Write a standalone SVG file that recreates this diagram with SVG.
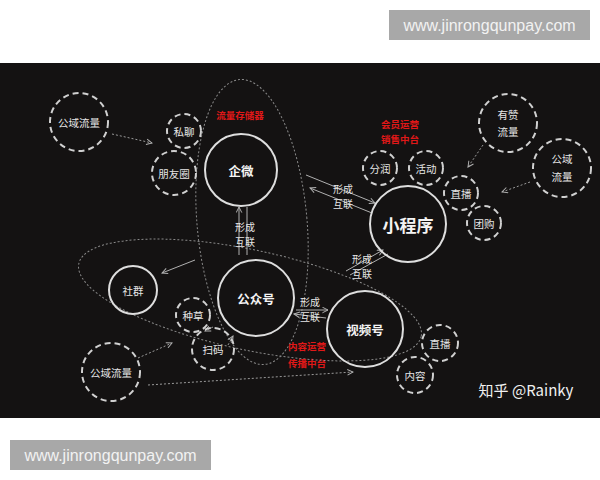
<svg xmlns="http://www.w3.org/2000/svg" width="600" height="480" viewBox="0 0 600 480">
<style>
.cn{font-family:"Noto Sans CJK SC","Noto Sans",sans-serif;text-anchor:middle;dominant-baseline:central}
.lbl{fill:#e6e6e6;font-size:10.5px}
.sm{fill:#e6e6e6;font-size:10px}
.big{fill:#f4f4f4;font-size:12.5px;font-weight:bold}
.red{fill:#e01818;font-size:9.5px;font-weight:bold}
.dash{fill:none;stroke:#d0d0d0;stroke-width:2;stroke-dasharray:6 4}
.solid{fill:none;stroke:#dedede;stroke-width:2}
.ell{fill:none;stroke:#8a8a8a;stroke-width:1;stroke-dasharray:2 2}
.dot{fill:none;stroke:#9a9a9a;stroke-width:1;stroke-dasharray:2 2}
.thin{fill:none;stroke:#b0b0b0;stroke-width:1}
.wm{font-family:"Liberation Sans",Arial,sans-serif;font-size:16px;fill:#f2f2f2;text-anchor:middle}
</style>
<defs>
<marker id="ah" viewBox="0 0 10 10" refX="9" refY="5" markerWidth="7" markerHeight="7" orient="auto-start-reverse">
<path d="M1,1 L9,5 L1,9" fill="none" stroke="#b0b0b0" stroke-width="1.4"/>
</marker>
</defs>
<rect x="0" y="0" width="600" height="480" fill="#ffffff"/>
<rect x="389" y="10" width="201" height="30" fill="#a8a8a8"/>
<text class="wm" x="489.5" y="31">www.jinrongqunpay.com</text>
<rect x="0" y="63" width="600" height="355" fill="#141212"/>
<rect x="10" y="440" width="201" height="30" fill="#a8a8a8"/>
<text class="wm" x="110.5" y="461">www.jinrongqunpay.com</text>

<g id="regions">
<ellipse class="ell" cx="252" cy="222" rx="55" ry="143" transform="rotate(-5 252 222)"/>
<ellipse class="ell" cx="250" cy="300" rx="175" ry="50" transform="rotate(12 250 300)"/>
</g>

<g id="connectors">
<line class="dot" x1="112" y1="134" x2="152" y2="143" marker-end="url(#ah)"/>
<line class="dot" x1="483" y1="145" x2="468" y2="167" marker-end="url(#ah)"/>
<line class="dot" x1="530" y1="182" x2="502" y2="192" marker-end="url(#ah)"/>
<line class="thin" x1="306" y1="175" x2="375" y2="203" marker-end="url(#ah)"/>
<line class="thin" x1="372" y1="213" x2="310" y2="188" marker-end="url(#ah)"/>
<line class="thin" x1="239" y1="255" x2="239" y2="207" marker-end="url(#ah)"/>
<line class="thin" x1="247" y1="207" x2="247" y2="255"/>
<line class="thin" x1="195" y1="260" x2="162" y2="273" marker-end="url(#ah)"/>
<line class="thin" x1="296" y1="310" x2="328" y2="310" marker-end="url(#ah)"/>
<line class="thin" x1="326" y1="318" x2="294" y2="314" marker-end="url(#ah)"/>
<line class="thin" x1="346" y1="271" x2="383" y2="250" marker-end="url(#ah)"/>
<line class="thin" x1="388" y1="254" x2="350" y2="275"/>
<line class="dot" x1="138" y1="358" x2="172" y2="343" marker-end="url(#ah)"/>
<line class="dot" x1="213" y1="327" x2="205" y2="331" marker-end="url(#ah)"/>
<line class="dot" x1="228" y1="345" x2="233" y2="336" marker-end="url(#ah)"/>
<line class="dot" x1="148" y1="385" x2="353" y2="372" marker-end="url(#ah)"/>
</g>

<g id="n-gongyu1"><circle class="dash" cx="79" cy="122" r="29"/><text class="cn lbl" x="79" y="122">公域流量</text></g>
<g id="n-siliao"><circle class="dash" cx="184" cy="131" r="17"/><text class="cn lbl" x="184" y="131">私聊</text></g>
<g id="n-pengyouquan"><circle class="dash" cx="174" cy="173" r="22"/><text class="cn lbl" x="174" y="173">朋友圈</text></g>
<g id="n-qiwei"><circle class="solid" cx="241" cy="170" r="36"/><text class="cn big" x="241" y="170">企微</text></g>
<g id="lbl-liuliang"><text class="cn red" x="240" y="115">流量存储器</text></g>
<g id="lbl-huiyuan"><text class="cn red" x="400" y="124">会员运营</text><text class="cn red" x="400" y="139">销售中台</text></g>
<g id="n-fenrun"><circle class="dash" cx="380" cy="168" r="17"/><text class="cn lbl" x="380" y="168">分润</text></g>
<g id="n-huodong"><circle class="dash" cx="426" cy="168" r="17"/><text class="cn lbl" x="426" y="168">活动</text></g>
<g id="n-zhibo1"><circle class="dash" cx="461" cy="193" r="17"/><text class="cn lbl" x="461" y="193">直播</text></g>
<g id="n-tuangou"><circle class="dash" cx="484" cy="223" r="17"/><text class="cn lbl" x="484" y="223">团购</text></g>
<g id="n-youzan"><circle class="dash" cx="508" cy="123" r="29"/><text class="cn lbl" x="508" y="114">有赞</text><text class="cn lbl" x="508" y="131">流量</text></g>
<g id="n-gongyu2"><circle class="dash" cx="562" cy="168" r="29"/><text class="cn lbl" x="562" y="158">公域</text><text class="cn lbl" x="562" y="176">流量</text></g>
<g id="n-xiaochengxu"><circle class="solid" cx="408" cy="224" r="38"/><text class="cn big" style="font-size:17px" x="408" y="224">小程序</text></g>
<g id="lbl-xc1"><text class="cn sm" x="343" y="188">形成</text><text class="cn sm" x="343" y="203">互联</text></g>
<g id="lbl-xc2"><text class="cn sm" x="245" y="226">形成</text><text class="cn sm" x="245" y="241">互联</text></g>
<g id="lbl-xc3"><text class="cn sm" x="362" y="258">形成</text><text class="cn sm" x="362" y="273">互联</text></g>
<g id="lbl-xc4"><text class="cn sm" x="310" y="301">形成</text><text class="cn sm" x="310" y="316">互联</text></g>
<g id="n-shequn"><circle class="solid" cx="133" cy="290" r="24"/><text class="cn lbl" x="133" y="290">社群</text></g>
<g id="n-gongzhonghao"><circle class="solid" cx="256" cy="298" r="38"/><text class="cn big" x="256" y="298">公众号</text></g>
<g id="n-zhongcao"><circle class="dash" cx="193" cy="315" r="17"/><text class="cn lbl" x="193" y="315">种草</text></g>
<g id="n-saoma"><circle class="dash" cx="213" cy="349" r="21"/><text class="cn lbl" x="213" y="349">扫码</text></g>
<g id="n-gongyu3"><circle class="dash" cx="111" cy="372" r="29"/><text class="cn lbl" x="111" y="372">公域流量</text></g>
<g id="n-shipinhao"><circle class="solid" cx="365" cy="329" r="38"/><text class="cn big" x="365" y="329">视频号</text></g>
<g id="lbl-neirong"><text class="cn red" x="307" y="346">内容运营</text><text class="cn red" x="307" y="363">传播中台</text></g>
<g id="n-zhibo2"><circle class="dash" cx="440" cy="343" r="18"/><text class="cn lbl" x="440" y="343">直播</text></g>
<g id="n-neirong"><circle class="dash" cx="415" cy="375" r="18"/><text class="cn lbl" x="415" y="375">内容</text></g>
<text class="cn" style="fill:#f0f0f0;font-size:15px" x="526" y="389">知乎 @Rainky</text>
</svg>
